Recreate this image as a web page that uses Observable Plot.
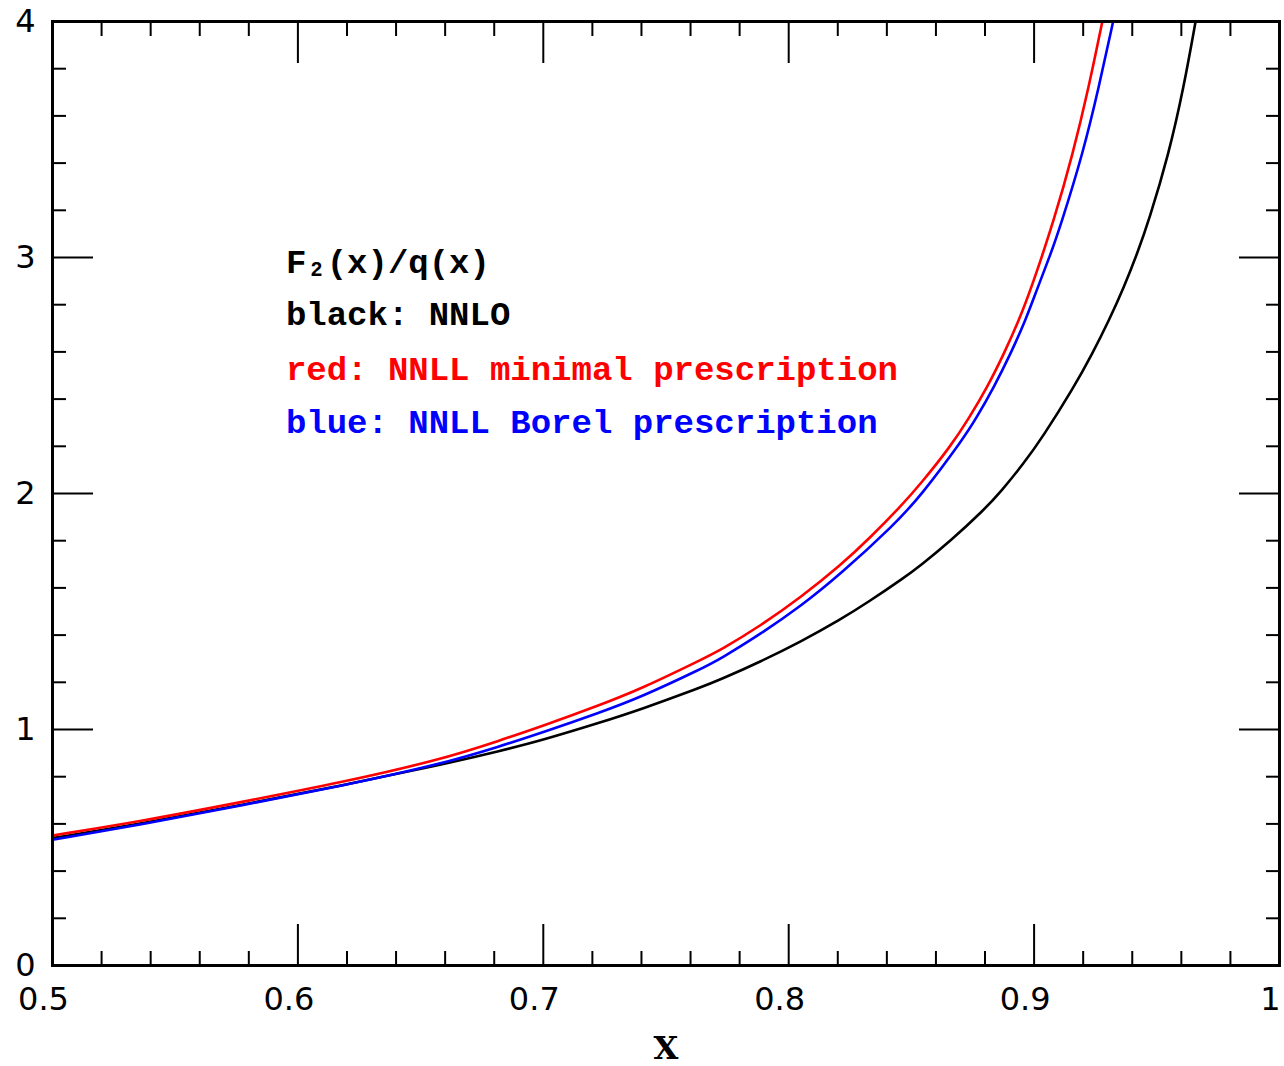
<!DOCTYPE html>
<html>
<head>
<meta charset="utf-8">
<script src="https://cdn.jsdelivr.net/npm/d3@7"></script>
<script src="https://cdn.jsdelivr.net/npm/@observablehq/plot@0.6"></script>
<style>
  body { margin: 0; background: #fff; }
  #chart svg { display: block; }
</style>
</head>
<body>
<div id="chart"></div>
<script>
// ---- Data ----
const xNNLO = [0.5, 0.536, 0.5767, 0.6175, 0.6582, 0.6827, 0.699, 0.7234, 0.7397, 0.7642, 0.7723, 0.7886, 0.8049, 0.8211, 0.8321, 0.847, 0.8537, 0.866, 0.8796, 0.8864, 0.8958, 0.9033, 0.9162, 0.9237, 0.9305, 0.9366, 0.942, 0.9468, 0.9549, 0.961, 0.9658];
const yNNLO = [0.540, 0.600, 0.680, 0.762, 0.850, 0.910, 0.953, 1.030, 1.085, 1.178, 1.212, 1.288, 1.372, 1.466, 1.538, 1.643, 1.695, 1.800, 1.931, 2.007, 2.128, 2.236, 2.450, 2.592, 2.733, 2.874, 3.016, 3.157, 3.439, 3.722, 4.000];

const xMinimal = [0.5, 0.536, 0.5767, 0.6175, 0.6582, 0.6827, 0.699, 0.7234, 0.7397, 0.7642, 0.7723, 0.7886, 0.8049, 0.8211, 0.8334, 0.8456, 0.8537, 0.866, 0.8735, 0.8809, 0.8877, 0.8938, 0.899, 0.9081, 0.9158, 0.9223, 0.9278];
const yMinimal = [0.551, 0.611, 0.692, 0.775, 0.872, 0.955, 1.012, 1.105, 1.172, 1.295, 1.337, 1.440, 1.560, 1.695, 1.815, 1.945, 2.040, 2.200, 2.320, 2.450, 2.592, 2.733, 2.874, 3.157, 3.439, 3.722, 4.000];

const xBorel = [0.5, 0.536, 0.5767, 0.6175, 0.6582, 0.6827, 0.699, 0.7234, 0.7397, 0.7642, 0.7723, 0.7886, 0.8049, 0.8211, 0.8429, 0.8537, 0.8714, 0.8762, 0.8836, 0.8904, 0.8965, 0.9015, 0.9064, 0.9108, 0.92, 0.9264, 0.9322];
const yBorel = [0.533, 0.597, 0.678, 0.760, 0.853, 0.930, 0.985, 1.073, 1.137, 1.256, 1.300, 1.405, 1.522, 1.658, 1.867, 1.988, 2.236, 2.315, 2.450, 2.592, 2.733, 2.874, 3.005, 3.135, 3.445, 3.722, 4.000];

const seriesNames = ["NNLO", "NNLL minimal prescription", "NNLL Borel prescription"];
const seriesColors = ["#000000", "#ff0000", "#0000ff"];

const xMajorTicks = [0.5, 0.6, 0.7, 0.8, 0.9, 1];
const xMinorTicks = [0.52, 0.54, 0.56, 0.58, 0.62, 0.64, 0.66, 0.68, 0.72, 0.74, 0.76, 0.78, 0.82, 0.84, 0.86, 0.88, 0.92, 0.94, 0.96, 0.98];
const xTickLabels = ["0.5", "0.6", "0.7", "0.8", "0.9", "1"];
const yMajorTicks = [0, 1, 2, 3, 4];
const yMinorTicks = [0.2, 0.4, 0.6, 0.8, 1.2, 1.4, 1.6, 1.8, 2.2, 2.4, 2.6, 2.8, 3.2, 3.4, 3.6, 3.8];
const yTickLabels = ["0", "1", "2", "3", "4"];

const xAxisLabel = "X";
const legendLines = ["F₂(x)/q(x)", "black: NNLO", "red: NNLL minimal prescription", "blue: NNLL Borel prescription"];
const legendColors = ["#000000", "#000000", "#ff0000", "#0000ff"];
const legendY = [2.936, 2.712, 2.483, 2.258];
const legendX = 0.5951;

// ---- Build tables ----
const pack = (xs, ys, name) => xs.map((x, i) => ({series: name, x, y: ys[i]}));
const rows = [
  ...pack(xNNLO, yNNLO, seriesNames[0]),
  ...pack(xMinimal, yMinimal, seriesNames[1]),
  ...pack(xBorel, yBorel, seriesNames[2])
];
const legendRows = legendLines.map((t, i) => ({text: t, color: legendColors[i], y: legendY[i]}));

const tickFont = "'DejaVu Sans', sans-serif";
const legendFont = "'Liberation Mono', 'DejaVu Sans Mono', monospace";
const noLabel = () => "";
const tickStyle = {tickFormat: noLabel, strokeWidth: 2, label: null};

const chart = Plot.plot({
  width: 1284,
  height: 1066,
  marginLeft: 52,
  marginRight: 5,
  marginTop: 21,
  marginBottom: 101,
  x: {domain: [0.5, 1]},
  y: {domain: [0, 4]},
  color: {domain: seriesNames, range: seriesColors},
  marks: [
    // minor & major ticks on all four sides (pointing inward)
    Plot.axisX({anchor: "bottom", ticks: xMinorTicks, tickSize: -14, ...tickStyle}),
    Plot.axisX({anchor: "bottom", ticks: xMajorTicks, tickSize: -41, ...tickStyle}),
    Plot.axisX({anchor: "top", ticks: xMinorTicks, tickSize: -14, ...tickStyle}),
    Plot.axisX({anchor: "top", ticks: xMajorTicks, tickSize: -41, ...tickStyle}),
    Plot.axisY({anchor: "left", ticks: yMinorTicks, tickSize: -14, ...tickStyle}),
    Plot.axisY({anchor: "left", ticks: yMajorTicks, tickSize: -41, ...tickStyle}),
    Plot.axisY({anchor: "right", ticks: yMinorTicks, tickSize: -14, ...tickStyle}),
    Plot.axisY({anchor: "right", ticks: yMajorTicks, tickSize: -41, ...tickStyle}),
    // tick labels
    Plot.axisX({anchor: "bottom", ticks: xMajorTicks, tickSize: 0, tickPadding: 22, dx: -9, label: null,
      tickFormat: d => xTickLabels[xMajorTicks.indexOf(d)], fontSize: 32, fontFamily: tickFont, fill: "#000"}),
    Plot.axisY({anchor: "left", ticks: yMajorTicks, tickSize: 0, tickPadding: 17, label: null,
      tickFormat: d => yTickLabels[yMajorTicks.indexOf(d)], fontSize: 32, fontFamily: tickFont, fill: "#000"}),
    // curves
    Plot.line(rows, {x: "x", y: "y", z: "series", stroke: "series", strokeWidth: 2.6, curve: "basis"}),
    // frame
    Plot.frame({stroke: "#000", strokeWidth: 3}),
    // legend text
    Plot.text(legendRows, {x: () => legendX, y: "y", text: "text", fill: d => d.color, textAnchor: "start", lineAnchor: "bottom",
      fontSize: 34, fontWeight: "bold", fontFamily: legendFont}),
    // x axis title
    Plot.text([xAxisLabel], {frameAnchor: "bottom", dy: 93, lineAnchor: "bottom", text: d => d,
      fontSize: 32, fontWeight: "bold", fontFamily: "'DejaVu Serif', serif", fill: "#000"})
  ]
});
document.getElementById("chart").appendChild(chart);
</script>
</body>
</html>
